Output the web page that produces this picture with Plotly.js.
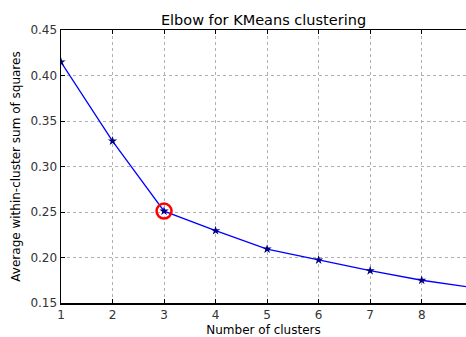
<!DOCTYPE html>
<html><head><meta charset="utf-8">
<script src="https://cdn.plot.ly/plotly-3.0.1.min.js"></script>
<style>html,body{margin:0;padding:0;background:#fff;}#chart{width:466px;height:337px;}</style>
</head><body><div id="chart"></div>
<script>
const clusters = [1, 2, 3, 4, 5, 6, 7, 8, 9];
const avgWithinSS = [0.4148, 0.328, 0.251, 0.2295, 0.2093, 0.1973, 0.1855, 0.175, 0.1669];
const elbowX = [3];
const elbowY = [0.251];
const xTicks = [1, 2, 3, 4, 5, 6, 7, 8];
const yTicks = [0.15, 0.20, 0.25, 0.30, 0.35, 0.40, 0.45];

const font = "DejaVu Sans, sans-serif";
const traces = [
  {x: clusters, y: avgWithinSS, mode: 'lines+markers', type: 'scatter',
   line: {color: '#0000ff', width: 1.3},
   marker: {symbol: 'star', size: 7, color: '#000080', line: {color: '#000080', width: 0}},
   hoverinfo: 'none'},
  {x: elbowX, y: elbowY, mode: 'markers', type: 'scatter',
   marker: {symbol: 'circle-open', size: 15, color: '#ff0000', line: {color: '#ff0000', width: 2.5}},
   hoverinfo: 'none'}
];
const layout = {
  width: 466, height: 337,
  margin: {l: 61, r: 0, t: 30, b: 34},
  paper_bgcolor: '#fff', plot_bgcolor: '#fff',
  showlegend: false,
  font: {family: font, size: 12, color: '#000'},
  title: {text: 'Elbow for KMeans clustering', font: {family: font, size: 14.5, color: '#000'}, x: 0.5, xref: 'paper', xanchor: 'center', y: 1, yref: 'paper', yanchor: 'bottom', pad: {b: 5}},
  xaxis: {
    range: [1, 8.86], tickvals: xTicks, ticktext: xTicks.map(String),
    showline: true, linecolor: '#000', linewidth: 1.5, mirror: 'ticks',
    showgrid: true, gridcolor: '#b0b0b0', griddash: 'dot', gridwidth: 1,
    ticks: 'inside', ticklen: 4, tickcolor: '#000', zeroline: false,
    tickfont: {family: font, size: 12, color: '#333'},
    title: {text: 'Number of clusters', font: {family: font, size: 12, color: '#000'}, standoff: 5}
  },
  yaxis: {
    range: [0.15, 0.45], tickvals: yTicks, ticktext: yTicks.map(v => v.toFixed(2)),
    showline: true, linecolor: '#000', linewidth: 1.5, mirror: false,
    showgrid: true, gridcolor: '#b0b0b0', griddash: 'dot', gridwidth: 1,
    ticks: 'inside', ticklen: 4, tickcolor: '#000', zeroline: false,
    tickfont: {family: font, size: 12, color: '#333'},
    title: {text: 'Average within-cluster sum of squares', font: {family: font, size: 12, color: '#000'}, standoff: 7}
  }
};
Plotly.newPlot('chart', traces, layout, {displayModeBar: false, staticPlot: true});
</script></body></html>
